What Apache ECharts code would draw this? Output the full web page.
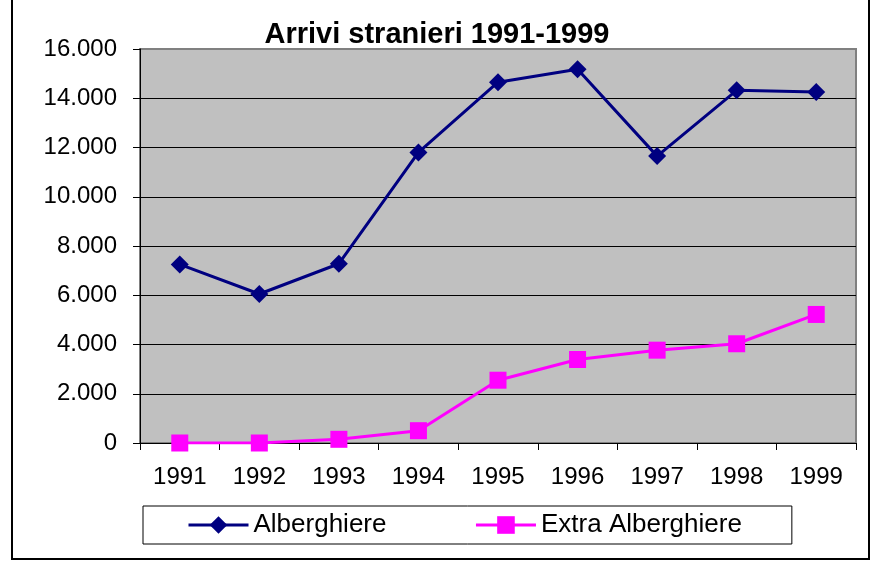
<!DOCTYPE html>
<html>
<head>
<meta charset="utf-8">
<title>Arrivi stranieri 1991-1999</title>
<script src="https://cdn.jsdelivr.net/npm/echarts@6/dist/echarts.min.js"></script>
<style>
  html, body { margin: 0; padding: 0; background: #fff; }
  #chart { width: 874px; height: 563px; }
</style>
</head>
<body>
<div id="chart"></div>
<script>
// dati
const anni = ['1991', '1992', '1993', '1994', '1995', '1996', '1997', '1998', '1999'];
const alberghiere = [7250, 6050, 7280, 11800, 14650, 15180, 11650, 14320, 14250];
const extraAlberghiere = [0, 0, 150, 500, 2550, 3390, 3770, 4030, 5220];
const yTicks = [0, 2000, 4000, 6000, 8000, 10000, 12000, 14000, 16000];

const font = 'Liberation Sans, Arial, sans-serif';

// 16000 -> "16.000"
function puntoMigliaia(v) {
  return String(v).replace(/\B(?=(\d{3})+(?!\d))/g, '.');
}

let myChart = echarts.init(document.getElementById('chart'));

let option = {
  backgroundColor: '#fff',
  animation: false,
  title: {
    text: 'Arrivi stranieri 1991-1999',
    left: 'center',
    top: 15,
    textStyle: { fontFamily: font, fontSize: 29, fontWeight: 'bold', color: '#000' }
  },
  // cornice esterna
  graphic: [{
    type: 'rect',
    shape: { x: 12, y: -2, width: 857, height: 561 },
    style: { fill: 'none', stroke: '#000', lineWidth: 2 },
    silent: true
  }],
  legend: {
    left: 143,
    top: 506,
    padding: [6, 50, 6, 44],
    itemGap: 88,
    itemWidth: 60,
    itemHeight: 22,
    borderColor: '#000',
    borderWidth: 1,
    lineStyle: { width: 3 },
    textStyle: { fontFamily: font, fontSize: 26, color: '#000' },
    data: ['Alberghiere', 'Extra Alberghiere']
  },
  grid: {
    left: 140,
    right: 18,
    top: 49,
    bottom: 120,
    containLabel: false,
    show: true,
    backgroundColor: '#C0C0C0',
    borderColor: '#808080',
    borderWidth: 2
  },
  xAxis: {
    type: 'category',
    data: anni,
    boundaryGap: true,
    axisLine: { lineStyle: { color: '#000', width: 1 } },
    axisTick: { show: true, length: 7, lineStyle: { color: '#000' } },
    axisLabel: { margin: 22, fontFamily: font, fontSize: 24, color: '#000' }
  },
  yAxis: {
    type: 'value',
    min: yTicks[0],
    max: yTicks[yTicks.length - 1],
    interval: yTicks[1] - yTicks[0],
    axisLine: { show: true, lineStyle: { color: '#000', width: 1 } },
    axisTick: { show: true, length: 7, lineStyle: { color: '#000' } },
    axisLabel: {
      margin: 23,
      fontFamily: font,
      fontSize: 24,
      color: '#000',
      formatter: puntoMigliaia
    },
    splitLine: { show: true, showMaxLine: false, lineStyle: { color: '#000', width: 1 } }
  },
  series: [
    {
      name: 'Alberghiere',
      type: 'line',
      data: alberghiere,
      symbol: 'diamond',
      symbolSize: 18,
      color: '#000080',
      lineStyle: { color: '#000080', width: 3 },
      itemStyle: { color: '#000080' }
    },
    {
      name: 'Extra Alberghiere',
      type: 'line',
      data: extraAlberghiere,
      symbol: 'rect',
      symbolSize: 17,
      color: '#FF00FF',
      lineStyle: { color: '#FF00FF', width: 3 },
      itemStyle: { color: '#FF00FF' }
    }
  ]
};

myChart.setOption(option);
</script>
</body>
</html>
